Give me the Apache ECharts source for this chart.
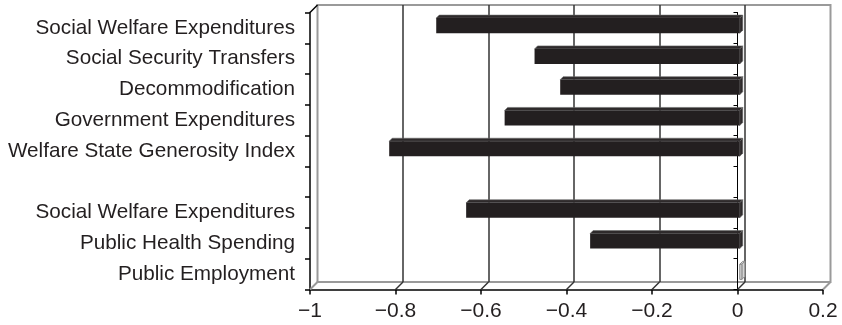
<!DOCTYPE html>
<html><head><meta charset="utf-8">
<script src="https://cdn.jsdelivr.net/npm/echarts@6/dist/echarts.min.js"></script>
<style>html,body{margin:0;padding:0;background:#fff}#c{width:842px;height:325px}</style>
</head><body><div id="c"></div>
<script>
const categories = ['Social Welfare Expenditures','Social Security Transfers','Decommodification','Government Expenditures','Welfare State Generosity Index','','Social Welfare Expenditures','Public Health Spending','Public Employment'];
const values = [-0.71, -0.48, -0.42, -0.55, -0.82, null, -0.64, -0.35, 0.005];
const xTicks = [-1, -0.8, -0.6, -0.4, -0.2, 0, 0.2];

const D = 7.5; // 3D depth offset in px
const FONT = 'Liberation Sans, Arial, sans-serif';
const TXT = '#231f20';

const fmt = v => { const a = +Math.abs(v).toFixed(2); return v < -1e-9 ? '\u2212' + a : String(a); };

function renderBar(params, api) {
  const v = api.value(0), i = api.value(1);
  const a = api.coord([0, i]), b = api.coord([v, i]);
  const band = api.size([0, 1])[1];
  const h = band * 0.49, s = D * 0.3, d = 3;
  const cy = a[1] - s;
  const x0 = Math.min(a[0], b[0]) + s, x1 = Math.max(a[0], b[0]) + s;
  const top = cy - h / 2, bot = cy + h / 2;
  const pos = v >= 0;
  const fill = pos ? '#d6d6d6' : '#231f20';
  const stroke = pos ? '#8a8a8a' : null;
  const st = stroke ? {fill, stroke, lineWidth: 1} : {fill};
  const topSt = pos ? st : {fill: '#2e2a2b', stroke: '#6a6a6a', lineWidth: 0.6};
  return {type: 'group', children: [
    {type: 'polygon', shape: {points: [[x0, top], [x0 + d, top - d], [x1 + d, top - d], [x1, top]]}, style: topSt},
    {type: 'polygon', shape: {points: [[x1, top], [x1 + d, top - d], [x1 + d, bot - d], [x1, bot]]}, style: topSt},
    {type: 'rect', shape: {x: x0, y: top, width: x1 - x0, height: bot - top}, style: st}
  ]};
}

function renderFrame(params, api) {
  const cs = params.coordSys;
  const t = api.value(0);
  const p = api.coord([t, 0]);
  const by = cs.y + cs.height;
  const edge = (params.dataIndex === 0 || params.dataIndex === xTicks.length - 1);
  const children = [
    {type: 'line', shape: {x1: p[0], y1: by, x2: p[0] + D, y2: by - D},
     style: {stroke: edge ? '#9a9a9a' : '#333', lineWidth: edge ? 2 : 1.5}}
  ];
  if (params.dataIndex === 0) {
    children.push({type: 'line', shape: {x1: cs.x, y1: cs.y, x2: cs.x + D, y2: cs.y - D},
      style: {stroke: '#000', lineWidth: 1.5}});
  }
  return {type: 'group', children};
}

const chart = echarts.init(document.getElementById('c'), null, {renderer: 'canvas'});
const front = {left: 310, top: 12.5, right: 19, bottom: 35.5};
chart.setOption({
  animation: false,
  backgroundColor: '#fff',
  grid: [
    {left: front.left + D, top: front.top - D, right: front.right - D, bottom: front.bottom + D,
     show: true, borderColor: '#9a9a9a', borderWidth: 2, backgroundColor: 'transparent'},
    Object.assign({}, front)
  ],
  xAxis: [
    {gridIndex: 0, type: 'value', min: -1, max: 0.2, interval: 0.2,
     axisLabel: {show: false}, axisLine: {show: false}, axisTick: {show: false},
     splitLine: {show: true, showMinLine: false, showMaxLine: false, lineStyle: {color: '#333', width: 1.5}}},
    {gridIndex: 1, type: 'value', min: -1, max: 0.2, interval: 0.2,
     axisLine: {show: true, onZero: false, lineStyle: {color: '#000', width: 1.5}},
     axisTick: {show: true, length: 5, lineStyle: {color: '#000', width: 1.5}},
     axisLabel: {formatter: fmt, fontSize: 21, color: TXT, fontFamily: FONT, margin: 11},
     splitLine: {show: false}}
  ],
  yAxis: [
    {gridIndex: 0, type: 'category', inverse: true, data: categories, show: false},
    {gridIndex: 1, type: 'category', inverse: true, data: categories, position: 'left',
     axisLine: {show: true, onZero: false, lineStyle: {color: '#000', width: 1.5}},
     axisTick: {show: true, length: 5, lineStyle: {color: '#000', width: 1.5}},
     axisLabel: {fontSize: 20.7, color: TXT, fontFamily: FONT, margin: 15, padding: [3, 0, 0, 0]},
     splitLine: {show: false}},
    {gridIndex: 1, type: 'category', inverse: true, data: categories, position: 'left',
     axisLine: {show: true, onZero: true, lineStyle: {color: '#000', width: 1}},
     axisTick: {show: true, length: 4, lineStyle: {color: '#000', width: 1}},
     axisLabel: {show: false}, splitLine: {show: false}}
  ],
  series: [
    {type: 'custom', xAxisIndex: 1, yAxisIndex: 1, renderItem: renderFrame, z: 1,
     encode: {x: 0, y: 1}, data: xTicks.map(t => [t, 0]), silent: true, clip: false},
    {type: 'custom', xAxisIndex: 1, yAxisIndex: 1, renderItem: renderBar, z: 3,
     encode: {x: 0, y: 1},
     data: values.map((v, i) => [v, i]).filter(d => d[0] !== null), clip: false}
  ]
});
</script>
</body></html>
